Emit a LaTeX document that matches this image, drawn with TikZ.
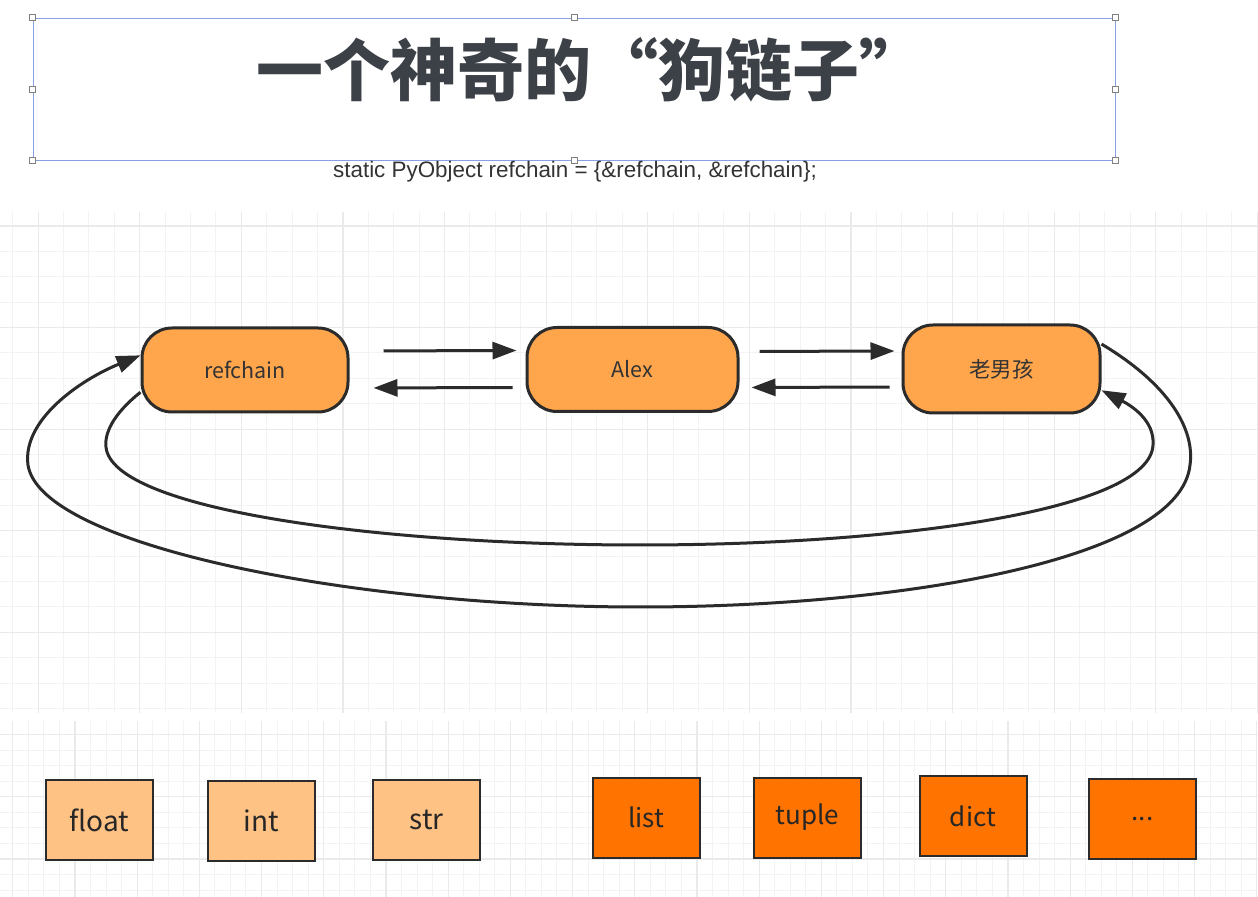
\documentclass[tikz,border=0pt]{standalone}
\usepackage{fontspec}
\setmainfont{Noto Sans CJK SC}
\newfontfamily\codefont{Liberation Sans}
\usetikzlibrary{arrows.meta}
\definecolor{objfill}{HTML}{FFA64D}
\definecolor{basefill}{HTML}{FFC285}
\definecolor{contfill}{HTML}{FF7400}
\definecolor{edgegray}{HTML}{2B2B2B}
\definecolor{titlegray}{HTML}{3C4047}
\definecolor{gridminor}{HTML}{F3F3F3}
\definecolor{gridmajor}{HTML}{EAEAEA}
\definecolor{selblue}{HTML}{86A0E4}

\begin{document}
\begin{tikzpicture}[
    x=0.5pt, y=-0.5pt,
    obj/.style={rectangle, rounded corners=15pt, draw=edgegray, fill=objfill, line width=1.5pt, minimum height=42pt, text=black!80, font=\fontsize{10.75}{12}\selectfont},
    basetype/.style={rectangle, draw=edgegray, fill=basefill, line width=1pt, minimum width=53.5pt, minimum height=40pt, text=black!85, font=\fontsize{14}{16}\selectfont},
    contype/.style={basetype, fill=contfill, font=\fontsize{13}{15}\selectfont},
    handle/.style={rectangle, draw=gray, fill=white, line width=0.4pt, minimum size=3pt, inner sep=0pt},
    minorline/.style={draw=gridminor, line width=0.5pt},
    majorline/.style={draw=gridmajor, line width=0.6pt},
    link/.style={-{Triangle[length=12pt,width=8.5pt]}, line width=1.5pt, draw=edgegray}
]
\useasboundingbox (0,0) rectangle (1258,897);

\begin{scope}
\clip (0,212) rectangle (1258,713);
\foreach \x in {12.7,38.1,...,1258} \draw[minorline] (\x,212) -- (\x,713);
\foreach \y in {226,251.4,...,713} \draw[minorline] (0,\y) -- (1258,\y);
\foreach \x in {38.1,139.7,...,1258} \draw[majorline] (\x,212) -- (\x,713);
\foreach \y in {226,327.6,...,713} \draw[majorline] (0,\y) -- (1258,\y);
\end{scope}
\begin{scope}
\clip (0,721) rectangle (1258,897);
\foreach \x in {12.7,28.25,...,1258} \draw[minorline] (\x,721) -- (\x,897);
\foreach \y in {734.5,750.05,...,897} \draw[minorline] (0,\y) -- (1258,\y);
\foreach \x in {12.7,74.9,...,1258} \draw[majorline] (\x,721) -- (\x,897);
\foreach \y in {734.5,796.7,...,897} \draw[majorline] (0,\y) -- (1258,\y);
\end{scope}

\node[draw=selblue, line width=0.45pt, minimum width=541pt, minimum height=71pt] (sel) at (574,89) {};
\foreach \a in {north west,north,north east,east,south east,south,south west,west}
    \node[handle] (h-\a) at (sel.\a) {};
\node[text=titlegray, font=\fontsize{33.5}{38}\selectfont\bfseries] (title) at (591,70) {一个神奇的“狗链子”};
\node[text=black!80, font=\codefont\fontsize{11.2}{13}\selectfont] (decl) at (575,172) {static PyObject refchain = \{\&refchain, \&refchain\};};

\node[obj, minimum width=103pt] (refchain) at (245,370) {refchain};
\node[obj, minimum width=105.5pt] (alex) at (632.5,369.5) {Alex};
\node[obj, minimum width=98.5pt, minimum height=44pt] (lnh) at (1001.5,369) {老男孩};

\draw[link, shorten <=17pt, shorten >=4.5pt] ([yshift=9.5pt]refchain.east) -- ([yshift=9.5pt]alex.west);
\draw[link, shorten <=6.5pt, shorten >=12pt] ([yshift=-9pt]alex.west) -- ([yshift=-9pt]refchain.east);
\draw[link, shorten <=10pt, shorten >=3.5pt] ([yshift=9pt]alex.east) -- ([yshift=9pt]lnh.west);
\draw[link, shorten <=6pt, shorten >=6pt] ([yshift=-9pt]lnh.west) -- ([yshift=-9pt]alex.east);
\draw[link] (lnh.14) .. controls (1170,385) and (1195,430) .. (1190,465) .. controls (1180,560) and (900,607) .. (640,607) .. controls (350,607) and (40,545) .. (28,465) .. controls (22,420) and (80,380) .. (refchain.172);
\draw[link] (refchain.192) .. controls (118,410) and (104,430) .. (106,447) .. controls (112,510) and (380,545) .. (640,545) .. controls (900,545) and (1150,510) .. (1153,445) .. controls (1155,420) and (1130,405) .. (lnh.-12);

\node[basetype] (float) at (99.5,820) {float};
\node[basetype] (int) at (261.5,820.5) {int};
\node[basetype] (str) at (426.5,819.5) {str};
\node[contype] (list) at (646,817.5) {list};
\node[contype] (tuple) at (807.5,817.5) {tuple};
\node[contype] (dict) at (973,816) {dict};
\node[contype] (more) at (1142.5,819) {...};
\end{tikzpicture}
\end{document}
